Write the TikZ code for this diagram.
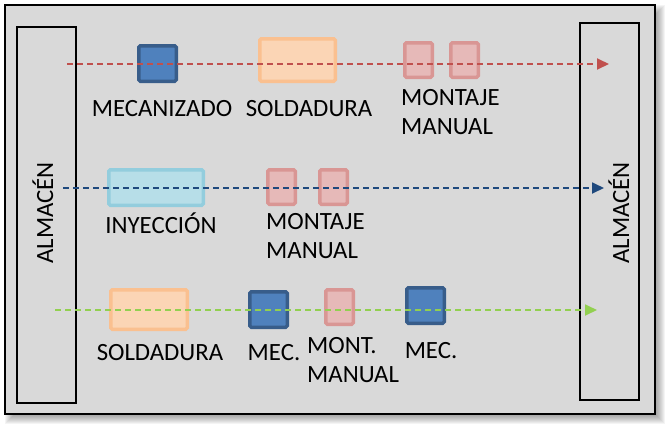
\documentclass[tikz,border=0pt]{standalone}
\usepackage{fontspec}
\setmainfont{Carlito}
\usetikzlibrary{arrows.meta}
\definecolor{bggray}{HTML}{D9D9D9}
\definecolor{mecfill}{HTML}{4F81BD}
\definecolor{mecline}{HTML}{385D8A}
\definecolor{solfill}{HTML}{FBD5B5}
\definecolor{solline}{HTML}{FAC090}
\definecolor{inyfill}{HTML}{B7DEE8}
\definecolor{inyline}{HTML}{93CDDD}
\definecolor{monfill}{HTML}{E6B9B8}
\definecolor{monline}{HTML}{D99694}
\definecolor{flowred}{HTML}{C0504D}
\definecolor{flowblue}{HTML}{1F497D}
\definecolor{flowgreen}{HTML}{92D050}
\begin{document}
\begin{tikzpicture}[x=1pt,y=-1pt,
  lbl/.style={font=\fontsize{24.8}{29}\selectfont, inner sep=0pt, text=black},
  stockbox/.style={draw=black, line width=2pt, inner sep=0pt},
  procbox/.style={line width=3.5pt, rounded corners=1.5pt, inner sep=0pt},
  mecbox/.style={procbox, draw=mecline, fill=mecfill},
  solbox/.style={procbox, draw=solline, fill=solfill},
  inybox/.style={procbox, draw=inyline, fill=inyfill},
  monbox/.style={procbox, draw=monline, fill=monfill},
  flow/.style={line width=1.8pt, dash pattern=on 6pt off 4pt, -{Triangle[length=12pt,width=11pt]}}
]
\useasboundingbox (0,0) rectangle (669,429);
% shadow
\foreach \e in {-5,...,5}{
  \fill[black, opacity=0.045] (10-\e,10-\e) rectangle (660+\e,419+\e);
}
% frame
\draw[line width=2pt, fill=bggray] (5,5) rectangle (655,414);

% storage boxes
\node[stockbox, minimum width=59pt, minimum height=376pt] (almL) at (46.5,215) {};
\node[stockbox, minimum width=59pt, minimum height=377pt] (almR) at (609.5,211.5) {};
\node[lbl, rotate=90, anchor=base] (almLt) at (53,213) {ALMACÉN};
\node[lbl, rotate=90, anchor=base] (almRt) at (629,213) {ALMACÉN};

% row 1
\node[mecbox, minimum width=37.5pt, minimum height=35.5pt] (m1) at (157.5,63.5) {};
\node[solbox, minimum width=75.5pt, minimum height=42.5pt] (s1) at (297.5,60) {};
\node[monbox, minimum width=27.5pt, minimum height=34.5pt] (p1a) at (418.5,60) {};
\node[monbox, minimum width=27.5pt, minimum height=34.5pt] (p1b) at (464.5,60) {};
\node[lbl, anchor=base] (m1t) at (162,116) {MECANIZADO};
\node[lbl, anchor=base] (s1t) at (309,116) {SOLDADURA};
\node[lbl, anchor=north west, align=left] (p1t) at (401,89.5) {MONTAJE\\MANUAL};

% row 2
\node[inybox, minimum width=94.5pt, minimum height=35.5pt] (i2) at (156,187.5) {};
\node[monbox, minimum width=27.5pt, minimum height=34.5pt] (p2a) at (281.5,187) {};
\node[monbox, minimum width=27.5pt, minimum height=34.5pt] (p2b) at (333.5,187) {};
\node[lbl, anchor=base] (i2t) at (161,233) {INYECCIÓN};
\node[lbl, anchor=north west, align=left] (p2t) at (266,213.5) {MONTAJE\\MANUAL};

% row 3
\node[solbox, minimum width=76.5pt, minimum height=39.5pt] (s3) at (149,309.5) {};
\node[mecbox, minimum width=37.5pt, minimum height=35.5pt] (m3a) at (268.5,309.5) {};
\node[monbox, minimum width=27.5pt, minimum height=34.5pt] (p3) at (339.5,307) {};
\node[mecbox, minimum width=37.5pt, minimum height=35.5pt] (m3b) at (425.5,305.5) {};
\node[lbl, anchor=base] (s3t) at (160,360) {SOLDADURA};
\node[lbl, anchor=base] (m3at) at (274,360) {MEC.};
\node[lbl, anchor=north west, align=left] (p3t) at (307,337.5) {MONT.\\MANUAL};
\node[lbl, anchor=base] (m3bt) at (431,358) {MEC.};

% flows
\coordinate (r1s) at (67,64);
\coordinate (r1e) at (609,64);
\coordinate (r2s) at (63,188);
\coordinate (r2e) at (604,188);
\coordinate (r3s) at (55,310);
\coordinate (r3e) at (597,310);
\draw[flow, draw=flowred] (r1s) -- (r1e);
\draw[flow, draw=flowblue] (r2s) -- (r2e);
\draw[flow, draw=flowgreen] (r3s) -- (r3e);
\end{tikzpicture}
\end{document}
